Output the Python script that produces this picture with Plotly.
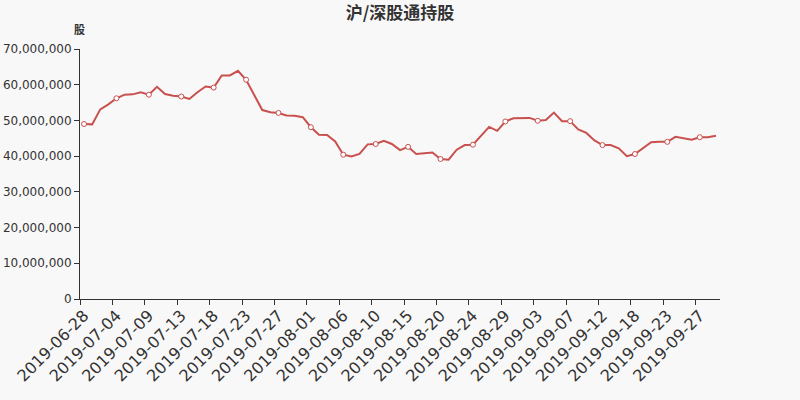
import plotly.graph_objects as go

dates = [
    "2019-06-28", "2019-07-01", "2019-07-02", "2019-07-03", "2019-07-04", "2019-07-05", "2019-07-06",
    "2019-07-08", "2019-07-09", "2019-07-10", "2019-07-11", "2019-07-12", "2019-07-13",
    "2019-07-15", "2019-07-16", "2019-07-17", "2019-07-18", "2019-07-19", "2019-07-20",
    "2019-07-22", "2019-07-23", "2019-07-24", "2019-07-25", "2019-07-26", "2019-07-27",
    "2019-07-29", "2019-07-30", "2019-07-31", "2019-08-01", "2019-08-02", "2019-08-03",
    "2019-08-05", "2019-08-06", "2019-08-07", "2019-08-08", "2019-08-09", "2019-08-10",
    "2019-08-12", "2019-08-13", "2019-08-14", "2019-08-15", "2019-08-16", "2019-08-17",
    "2019-08-19", "2019-08-20", "2019-08-21", "2019-08-22", "2019-08-23", "2019-08-24",
    "2019-08-26", "2019-08-27", "2019-08-28", "2019-08-29", "2019-08-30", "2019-08-31",
    "2019-09-02", "2019-09-03", "2019-09-04", "2019-09-05", "2019-09-06", "2019-09-07",
    "2019-09-09", "2019-09-10", "2019-09-11", "2019-09-12", "2019-09-14",
    "2019-09-16", "2019-09-17", "2019-09-18", "2019-09-19", "2019-09-20", "2019-09-21",
    "2019-09-23", "2019-09-24", "2019-09-25", "2019-09-26", "2019-09-27", "2019-09-28",
    "2019-09-30",
]

holdings_m = [
    49.0, 48.9, 53.1, 54.5, 56.2, 57.2, 57.3, 57.9, 57.2, 59.4,
    57.4, 56.9, 56.7, 56.0, 57.9, 59.5, 59.2, 62.6, 62.6, 63.9,
    61.4, 57.1, 52.9, 52.3, 52.1, 51.4, 51.3, 50.9, 48.1, 46.0,
    45.9, 44.1, 40.4, 39.9, 40.6, 43.3, 43.4, 44.3, 43.4, 41.7,
    42.6, 40.6, 40.7, 41.0, 39.2, 39.0, 41.8, 43.1, 43.2, 45.6,
    48.2, 47.1, 49.7, 50.6, 50.7, 50.7, 49.9, 50.1, 52.2, 49.8,
    49.8, 47.5, 46.5, 44.4, 43.1, 43.1, 42.2, 40.0, 40.6, 42.2,
    43.9, 44.0, 44.0, 45.4, 45.1, 44.6, 45.3, 45.3, 45.7,
]
holdings = [v * 1_000_000 for v in holdings_m]

y_ticks = [0, 10_000_000, 20_000_000, 30_000_000, 40_000_000, 50_000_000, 60_000_000, 70_000_000]
label_step = 4
tick_dates = dates[::label_step]
tick_index = list(range(0, len(dates), label_step))
tick_boundaries = [i - 0.5 for i in tick_index]

line_color = "#c8504e"
axis_color = "#333333"
font_family = "DejaVu Sans, Noto Sans CJK SC, sans-serif"

fig = go.Figure()
# helper trace so the tick-only boundary axis gets drawn
fig.add_trace(go.Scatter(
    x=tick_boundaries, y=[None] * len(tick_boundaries), xaxis="x2", yaxis="y",
    mode="lines", hoverinfo="skip", showlegend=False,
))
fig.add_trace(go.Scatter(
    x=dates, y=holdings, mode="lines",
    line=dict(color=line_color, width=2),
    hoverinfo="x+y", showlegend=False,
))
fig.add_trace(go.Scatter(
    x=dates[::label_step], y=holdings[::label_step], mode="markers",
    marker=dict(symbol="circle", size=5, color="#ffffff",
                line=dict(color=line_color, width=1)),
    hoverinfo="skip", showlegend=False,
))

fig.update_layout(
    width=800, height=400,
    margin=dict(l=80, r=80, t=49, b=101),
    paper_bgcolor="#f8f8f8", plot_bgcolor="#f8f8f8",
    font=dict(family=font_family, color=axis_color, size=12),
    title=dict(text="<b>沪/深股通持股</b>", x=0.5, xanchor="center",
               y=1 - 13 / 400, yanchor="middle",
               font=dict(family="Noto Sans CJK SC, sans-serif", size=17, color=axis_color)),
    xaxis=dict(
        type="category", categoryorder="array", categoryarray=dates,
        range=[-0.5, len(dates) - 0.5],
        tickmode="array", tickvals=tick_dates, ticktext=tick_dates,
        automargin=False,
        tickangle=-45, ticks="", ticklen=5,
        tickfont=dict(size=16, color=axis_color, family=font_family),
        showline=True, linecolor=axis_color, linewidth=1,
        showgrid=False, zeroline=False,
    ),
    xaxis2=dict(
        type="linear", overlaying="x", anchor="y", side="bottom",
        range=[-0.5, len(dates) - 0.5],
        tickmode="array", tickvals=tick_boundaries,
        showticklabels=False, automargin=False,
        ticks="outside", ticklen=5, tickcolor=axis_color,
        showline=False, showgrid=False, zeroline=False,
    ),
    yaxis=dict(
        range=[0, 70_000_000], tickmode="array", tickvals=y_ticks,
        ticktext=[f"{v:,}" for v in y_ticks], automargin=False,
        ticks="outside", ticklen=5, tickcolor=axis_color,
        tickfont=dict(size=12, color=axis_color, family=font_family),
        showline=True, linecolor=axis_color, linewidth=1,
        showgrid=False, zeroline=False,
    ),
    annotations=[dict(
        text="<b>股</b>", xref="paper", yref="paper",
        x=-1 / 640, y=(299 - 29) / 250, xanchor="center", yanchor="middle",
        showarrow=False, font=dict(family="Noto Sans CJK SC, sans-serif", size=11, color=axis_color),
    )],
)

fig.write_html(
    "out.html",
    config={"displayModeBar": False},
    post_script="document.body.style.margin='0';document.body.style.background='#f8f8f8';",
)
